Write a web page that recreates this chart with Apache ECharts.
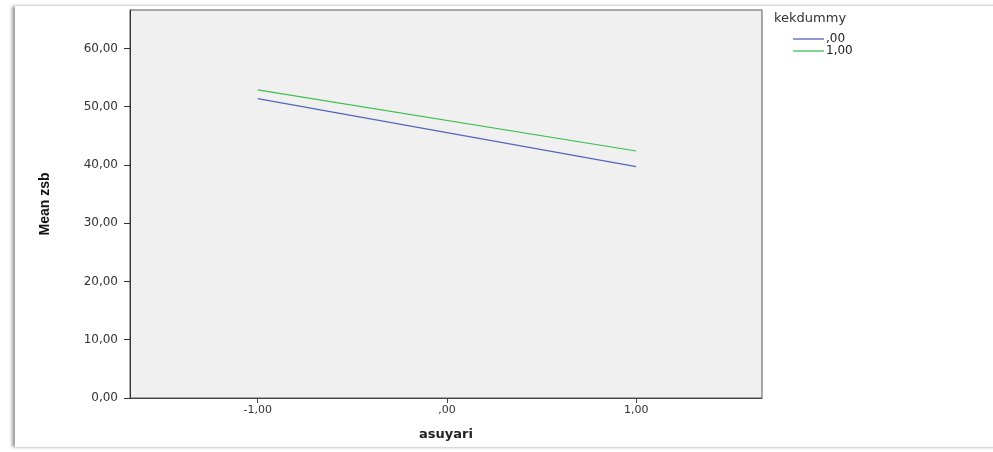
<!DOCTYPE html>
<html>
<head>
<meta charset="utf-8">
<script src="https://cdn.jsdelivr.net/npm/echarts@6/dist/echarts.min.js"></script>
<style>
html,body{margin:0;padding:0;background:#fff;}
#frame{position:absolute;left:15px;top:5px;width:985px;height:441px;border-top:1px solid #d8d8d8;border-bottom:1px solid #d8d8d8;box-shadow:-4px 0 3px -1px #a0a0a0;}
#main{position:absolute;left:0;top:0;width:993px;height:452px;}
</style>
</head>
<body>
<div id="frame"></div>
<div id="main"></div>
<script>
const xValues = [-1, 1];
const groupNames = [',00', '1,00'];
const meanZsb00 = [51.4, 39.7];
const meanZsb100 = [52.9, 42.4];
const xTicks = [-1, 0, 1];
const legendTitle = 'kekdummy';

function fmt(v){
  let s = Math.abs(v).toFixed(2).replace('.', ',');
  return (v < 0 ? '-' : '') + s;
}
function fmtX(v){
  if (v === 0) return ',00';
  return fmt(v);
}

const chart = echarts.init(document.getElementById('main'), null, {renderer:'canvas'});
const pairs = arr => xValues.map((x,i)=>[x, arr[i]]);
chart.setOption({
  animation:false,
  backgroundColor:'transparent',
  grid:{left:130, right:231, top:10, bottom:54, show:true, backgroundColor:'#f0f0f0', borderColor:'#555', borderWidth:1},
  xAxis:{
    type:'value', min:-1.675, max:1.665,
    name:'asuyari', nameLocation:'middle', nameGap:30,
    nameTextStyle:{fontFamily:'DejaVu Sans', fontWeight:'bold', fontSize:13, color:'#222'},
    axisLine:{show:true, onZero:false, lineStyle:{color:'#444', width:1}},
    axisTick:{show:true, customValues:xTicks, length:5, lineStyle:{color:'#444'}},
    axisLabel:{customValues:xTicks, formatter:fmtX, fontFamily:'DejaVu Sans', fontSize:11, color:'#333', margin:7},
    splitLine:{show:false}
  },
  yAxis:{
    type:'value', min:0, max:66.6, interval:10,
    name:'Mean zsb', nameLocation:'middle', nameGap:78, nameRotate:90,
    nameTextStyle:{fontFamily:'Liberation Sans', fontWeight:'bold', fontSize:14, color:'#111'},
    axisLine:{show:true, onZero:false, lineStyle:{color:'#333', width:1}},
    axisTick:{show:true, length:6, lineStyle:{color:'#333'}},
    axisLabel:{formatter:v=> v>60.5 ? '' : fmt(v), fontFamily:'DejaVu Sans', fontSize:12, color:'#333', margin:12,
      showMaxLabel:false},
    splitLine:{show:false}
  },
  legend:{
    orient:'vertical', left:788, top:28, itemWidth:31, itemHeight:1.3, itemGap:0, icon:'rect',
    data:groupNames,
    textStyle:{fontFamily:'DejaVu Sans', fontSize:12, lineHeight:10, color:'#222', padding:[0,0,0,-3]}
  },
  graphic:[{type:'text', left:774, top:12, style:{text:legendTitle, fontFamily:'DejaVu Sans', fontSize:13, fill:'#333'}}],
  series:[
    {name:groupNames[0], type:'line', data:pairs(meanZsb00), symbol:'none', lineStyle:{color:'#5466b8', width:1.2}, itemStyle:{color:'#5466b8'}},
    {name:groupNames[1], type:'line', data:pairs(meanZsb100), symbol:'none', lineStyle:{color:'#3dbf4e', width:1.2}, itemStyle:{color:'#3dbf4e'}}
  ]
});
</script>
</body>
</html>
